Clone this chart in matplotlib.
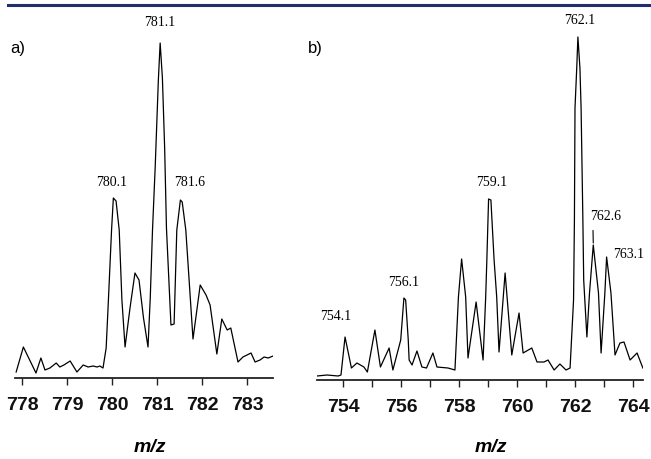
import matplotlib
matplotlib.use("Agg")
import matplotlib.pyplot as plt
import numpy as np

# ----------------------------------------------------
# Data (intensity in arbitrary units)
# ----------------------------------------------------

mz_a = [777.87, 778.03, 778.31, 778.42, 778.51, 778.62, 778.76, 778.84, 778.93,
        779.07, 779.22, 779.36, 779.47, 779.58, 779.67, 779.73, 779.80, 779.87,
        779.92, 779.99, 780.03, 780.09, 780.16, 780.22, 780.29, 780.40, 780.51,
        780.60, 780.70, 780.80, 780.85, 780.90, 780.96, 781.03, 781.07, 781.12,
        781.17, 781.21, 781.31, 781.38, 781.44, 781.52, 781.56, 781.64, 781.80,
        781.96, 782.09, 782.18, 782.33, 782.44, 782.56, 782.64, 782.80, 782.91,
        783.00, 783.09, 783.18, 783.29, 783.38, 783.47, 783.58]
int_a = [6, 31, 5, 20, 8, 10, 15, 11, 13,
         17, 6, 13, 11, 12, 11, 12, 10, 30,
         78, 148, 180, 177, 148, 78, 31, 70, 105,
         98, 60, 31, 80, 148, 211, 298, 335, 300,
         230, 150, 53, 54, 148, 178, 176, 148, 39,
         93, 83, 73, 24, 59, 48, 50, 16, 21,
         23, 25, 16, 18, 21, 20, 22]

mz_b = [753.10, 753.45, 753.83, 753.93, 754.07, 754.29, 754.48, 754.72, 754.84,
        755.10, 755.29, 755.59, 755.72, 755.99, 756.10, 756.16, 756.25, 756.28,
        756.38, 756.55, 756.72, 756.88, 757.10, 757.24, 757.62, 757.86, 757.98,
        758.09, 758.23, 758.31, 758.59, 758.83, 758.92, 758.96, 759.02, 759.10,
        759.21, 759.30, 759.38, 759.59, 759.82, 760.07, 760.21, 760.51, 760.69,
        760.93, 761.07, 761.28, 761.48, 761.69, 761.83, 761.95, 761.98, 762.00,
        762.06, 762.10, 762.17, 762.21, 762.27, 762.30, 762.41, 762.50, 762.63,
        762.81, 762.90, 763.03, 763.09, 763.24, 763.38, 763.55, 763.69, 763.90,
        764.14, 764.34]
int_b = [4, 5, 4, 5, 43, 12, 17, 13, 8,
         50, 13, 32, 10, 40, 82, 80, 40, 20,
         15, 29, 13, 12, 27, 13, 12, 10, 83,
         121, 83, 22, 78, 20, 83, 120, 181, 180,
         120, 83, 28, 107, 25, 67, 27, 32, 18,
         18, 20, 10, 16, 10, 12, 80, 160, 272,
         312, 343, 312, 272, 163, 100, 43, 87, 135,
         87, 27, 87, 123, 87, 25, 37, 38, 20,
         27, 12]

# labelled peaks: (m/z, intensity, label, offset in px)
peaks_a = [(780.03, 180, "780.1", (-2, 15)),
           (781.07, 335, "781.1", (0, 20)),
           (781.52, 178, "781.6", (9, 17))]
peaks_b = [(754.07, 43, "754.1", (-9, 20)),
           (756.10, 82, "756.1", (0, 16)),
           (759.02, 181, "759.1", (3, 17)),
           (762.10, 343, "762.1", (2, 17)),
           (763.09, 123, "763.1", (22, 3))]
leader_b = (762.63, 135, "762.6", (12, 26))

ticks_a = [778, 779, 780, 781, 782, 783]
ticks_b = [754, 755, 756, 757, 758, 759, 760, 761, 762, 763, 764]
labels_b = ["754", "", "756", "", "758", "", "760", "", "762", "", "764"]

# ----------------------------------------------------
# Figure
# ----------------------------------------------------

W, H = 651, 459
fig = plt.figure(figsize=(W / 100, H / 100), dpi=100)

sans = ["Liberation Sans", "DejaVu Sans"]
serif = ["Liberation Serif", "DejaVu Serif"]


def make_axes(x0, x1, ybot, ytop):
    return fig.add_axes([x0 / W, (H - ybot) / H, (x1 - x0) / W, (ybot - ytop) / H])


ax_a = make_axes(15, 273, 378, 30)
ax_b = make_axes(317, 643, 380, 30)

for ax, mz, inten, xlim, ylim in [
    (ax_a, mz_a, int_a, (777.844, 783.578), (0, 348)),
    (ax_b, mz_b, int_b, (753.103, 764.345), (0, 350)),
]:
    ax.plot(mz, inten, color="black", linewidth=0.9, solid_joinstyle="round")
    ax.set_xlim(*xlim)
    ax.set_ylim(*ylim)
    ax.patch.set_alpha(0)
    for side in ["top", "left", "right"]:
        ax.spines[side].set_visible(False)
    ax.spines["bottom"].set_linewidth(1.3)
    ax.spines["bottom"].set_color("#222222")
    ax.set_yticks([])
    ax.tick_params(axis="x", direction="out", length=5, width=1.0,
                   color="#222222", pad=9)

ax_a.set_xticks(ticks_a)
ax_a.set_xticklabels([str(t) for t in ticks_a])
ax_b.set_xticks(ticks_b)
ax_b.set_xticklabels(labels_b)

for ax in [ax_a, ax_b]:
    for lab in ax.get_xticklabels():
        lab.set_family(sans)
        lab.set_fontweight("bold")
        lab.set_fontsize(14)
        lab.set_color("#111111")

for ax, peaks in [(ax_a, peaks_a), (ax_b, peaks_b)]:
    for x, y, text, off in peaks:
        ax.annotate(text, xy=(x, y), xytext=off, textcoords="offset pixels",
                    ha="center", va="center", family=serif, fontsize=10)

x, y, text, off = leader_b
ax_b.annotate(text, xy=(x, y + 2), xytext=off, textcoords="offset pixels",
              ha="center", va="center", family=serif, fontsize=10,
              arrowprops=dict(arrowstyle="-", lw=0.8, color="black",
                              relpos=(0.1, 0.0), shrinkA=3, shrinkB=0))

# panel letters and axis titles
fig.text(10 / W, 1 - 49 / H, "a)", family=sans, fontsize=12,
         ha="left", va="center")
fig.text(308 / W, 1 - 49 / H, "b)", family=sans, fontsize=12,
         ha="left", va="center")

for xc in [150, 491]:
    fig.text(xc / W, 1 - 447 / H, "m/z", family=sans, fontsize=14,
             fontweight="bold", style="italic", ha="center", va="center")

# navy rule across the top
fig.add_artist(plt.Line2D([8 / W, 1.0], [1 - 5 / H, 1 - 5 / H],
                          color="#232d6e", linewidth=2.2))

fig.savefig("out.png", dpi=100)
